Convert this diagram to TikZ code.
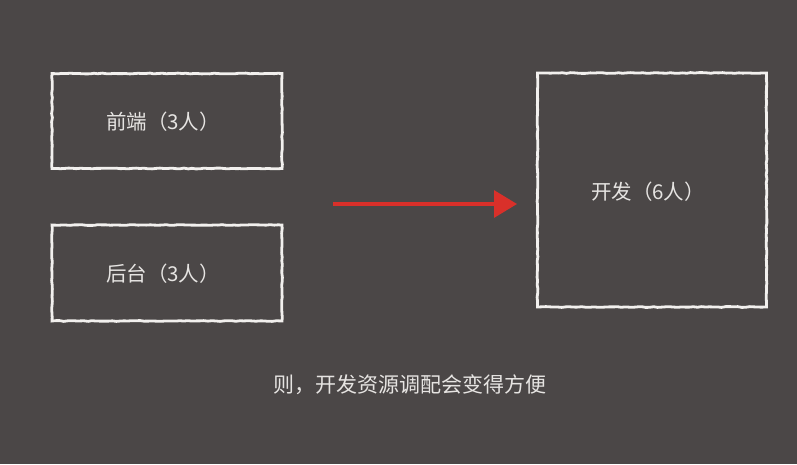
\documentclass[tikz,border=0pt]{standalone}
\usepackage{fontspec}
\setmainfont{Noto Sans CJK SC}
\usetikzlibrary{decorations.pathmorphing,arrows.meta}
\definecolor{bg}{HTML}{4B4747}
\definecolor{chalk}{HTML}{F2F0EE}
\definecolor{txt}{HTML}{E6E4E2}
\definecolor{arr}{HTML}{D9302A}
\tikzset{
  chalkbox/.style={draw=chalk, line width=2.8pt, decorate,
    decoration={random steps, segment length=4pt, amplitude=0.4pt},
    inner sep=0pt, outer sep=0pt},
  lbl/.style={text=txt, font=\fontsize{20.5}{24}\selectfont},
}
\begin{document}
\begin{tikzpicture}[x=1pt,y=-1pt]
\pgfmathsetseed{7}
\fill[bg] (0,0) rectangle (797,464);
\useasboundingbox (0,0) rectangle (797,464);
% boxes
\node[chalkbox, minimum width=230pt, minimum height=95pt] (fe) at (167,121) {};
\node[chalkbox, minimum width=230pt, minimum height=96pt] (be) at (167,273) {};
\node[chalkbox, minimum width=229pt, minimum height=234pt] (dev) at (652,190) {};
% labels
\node[lbl] (fel) at (163,122) {前端（3人）};
\node[lbl] (bel) at (163,274) {后台（3人）};
\node[lbl] (devl) at (648,192) {开发（6人）};
\node[text=txt, font=\fontsize{21}{25}\selectfont] (note) at (410,385) {则，开发资源调配会变得方便};
% arrow
\coordinate (a1) at (333,204);
\coordinate (a2) at (517,204);
\draw[arr, line width=3.2pt, -{Triangle[length=23pt,width=27pt]}] (a1) -- (a2);
\end{tikzpicture}
\end{document}
